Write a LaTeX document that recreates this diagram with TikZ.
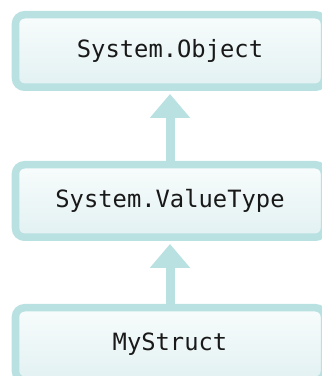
\documentclass[tikz,border=0pt]{standalone}
\usepackage{fontspec}
\setmonofont{DejaVu Sans Mono}
\usetikzlibrary{arrows.meta}
\definecolor{bordercol}{HTML}{B9E1E2}
\definecolor{filltop}{HTML}{F8FCFC}
\definecolor{fillbot}{HTML}{E2F1F2}
\tikzset{
  typebox/.style={draw=bordercol, line width=7.5pt, rounded corners=9pt,
    top color=filltop, bottom color=fillbot,
    minimum width=309pt, minimum height=72.5pt, inner sep=0pt,
    font=\ttfamily\fontsize{23.8}{28}\selectfont, text=black!90},
  inherit/.style={draw=bordercol, line width=9pt,
    -{Triangle[width=39pt,length=24pt]}}
}
\begin{document}
\begin{tikzpicture}[x=1pt,y=1pt]
\useasboundingbox (0,0) rectangle (322,376);
\clip (0,0) rectangle (322,376);
\node[typebox] (obj) at (170,325) {System.Object};
\node[typebox] (vt) at (170,175) {System.ValueType};
\node[typebox] (ms) at (170,32) {MyStruct};
\draw[inherit] (vt.north) -- ([yshift=-3pt]obj.south);
\draw[inherit] (ms.north) -- ([yshift=-3pt]vt.south);
\end{tikzpicture}
\end{document}
